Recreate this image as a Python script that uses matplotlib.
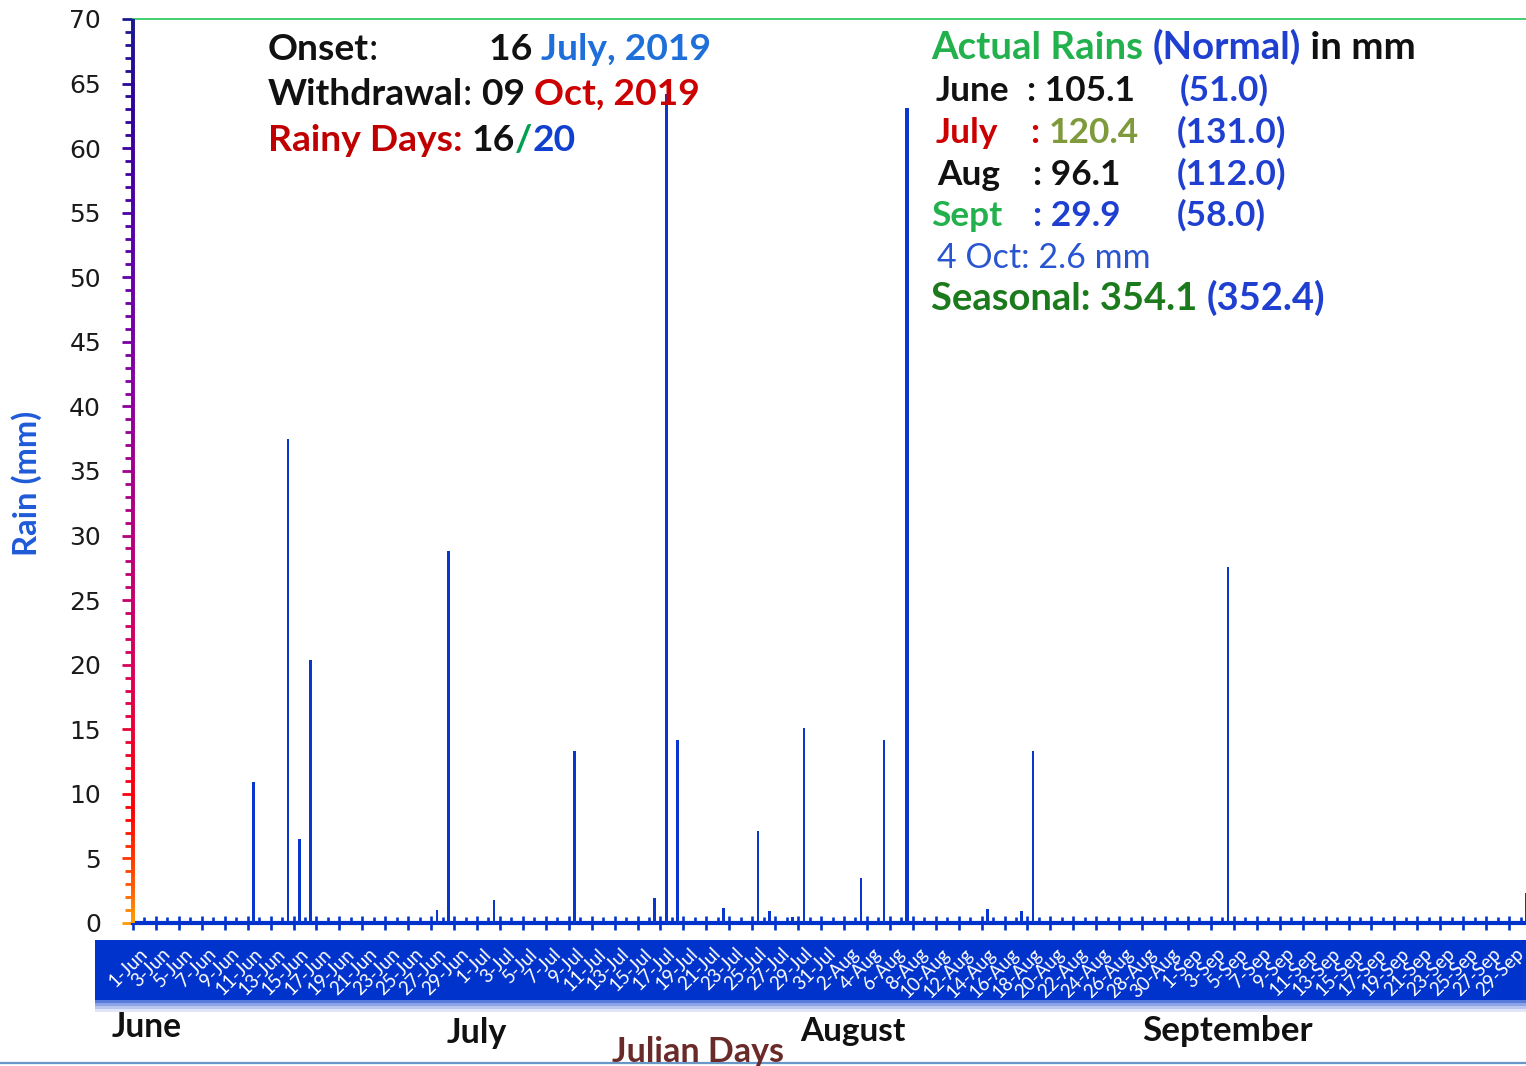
import matplotlib
matplotlib.use('Agg')
import matplotlib.pyplot as plt
import numpy as np
import pandas as pd
from matplotlib.colors import LinearSegmentedColormap
from matplotlib.collections import LineCollection
from matplotlib.patches import Rectangle
from matplotlib.lines import Line2D
from matplotlib.ticker import MultipleLocator, FixedLocator
from matplotlib.transforms import IdentityTransform, blended_transform_factory, offset_copy

# ---------------- data ----------------
season_start = '2019-06-01'
season_end = '2019-09-30'
rain_dates = ['2019-06-11', '2019-06-14', '2019-06-15', '2019-06-16', '2019-06-27', '2019-06-28',
              '2019-07-02', '2019-07-09', '2019-07-16', '2019-07-17', '2019-07-18', '2019-07-22',
              '2019-07-25', '2019-07-26', '2019-07-28', '2019-07-29',
              '2019-08-03', '2019-08-05', '2019-08-07', '2019-08-14', '2019-08-17', '2019-08-18',
              '2019-09-04', '2019-09-30']
rain_mm = [10.9, 37.5, 6.5, 20.4, 1.0, 28.8,
           1.8, 13.3, 1.9, 64.2, 14.2, 1.2,
           7.1, 0.9, 0.5, 15.1,
           3.5, 14.2, 63.1, 1.1, 0.9, 13.3,
           27.6, 2.3]
y_ticks = list(range(0, 71, 5))
month_labels = ['June', 'July', 'August', 'September']

# ---------------- figure ----------------
plt.rcParams['font.family'] = ['DejaVu Sans']
W, H = 1526, 1066
fig = plt.figure(figsize=(W / 100, H / 100), dpi=100)
fig.patch.set_facecolor('white')
ax = fig.add_axes([133 / W, (H - 923) / H, (1532 - 133) / W, (923 - 19) / H])

days = pd.date_range(season_start, season_end, freq='D')
n = len(days)
idx = np.array([(pd.Timestamp(d) - days[0]).days for d in rain_dates])
widths = [0.3 if v > 60 else 0.22 for v in rain_mm]
ax.bar(idx + 0.5, rain_mm, width=widths, color='#0A36D0', zorder=3, linewidth=0)
ax.set_xlim(0, n)
ax.set_ylim(0, 70)

# y axis
cmap = LinearSegmentedColormap.from_list('ygrad', [
    (0.0, '#FF9900'), (0.04, '#FF5500'), (0.12, '#FF0000'), (0.28, '#D8005A'),
    (0.45, '#B00080'), (0.6, '#8500A0'), (0.75, '#5A00A8'), (0.9, '#30009A'), (1.0, '#1A1A90')])
ax.yaxis.set_major_locator(FixedLocator(y_ticks))
ax.yaxis.set_minor_locator(MultipleLocator(1))
ax.tick_params(axis='y', which='major', direction='out', length=8, width=2.0,
               labelsize=18, pad=15, labelcolor='#1a1a1a')
ax.tick_params(axis='y', which='minor', direction='out', length=5.5, width=2.0)


def color_yticks():
    for t, loc in zip(ax.yaxis.get_major_ticks(), ax.yaxis.get_majorticklocs()):
        t.tick1line.set_color(cmap(loc / 70))
        t.tick1line.set_markeredgecolor(cmap(loc / 70))
    for t, loc in zip(ax.yaxis.get_minor_ticks(), ax.yaxis.get_minorticklocs()):
        t.tick1line.set_color(cmap(loc / 70))
        t.tick1line.set_markeredgecolor(cmap(loc / 70))


color_yticks()

ys = np.linspace(0, 70, 281)
pts = np.column_stack([np.zeros_like(ys), ys]).reshape(-1, 1, 2)
segs = np.concatenate([pts[:-1], pts[1:]], axis=1)
lc = LineCollection(segs, colors=[cmap(v / 70) for v in ys[:-1]], linewidths=2.8,
                    transform=blended_transform_factory(ax.transAxes, ax.transData),
                    clip_on=False, zorder=5)
ax.add_collection(lc)

# x axis
ax.xaxis.set_major_locator(FixedLocator(list(range(0, n + 1, 2))))
ax.xaxis.set_minor_locator(FixedLocator(list(range(1, n, 2))))
ax.tick_params(axis='x', which='major', direction='inout', length=9.5, width=1.9,
               color='#0033CC', labelbottom=False)
ax.tick_params(axis='x', which='minor', direction='in', length=4, width=1.9, color='#0033CC')

ax.spines['left'].set_visible(False)
ax.spines['right'].set_visible(False)
ax.spines['bottom'].set_color('#0033CC')
ax.spines['bottom'].set_linewidth(3)
ax.spines['top'].set_color('#33CC66')
ax.spines['top'].set_linewidth(1.3)

# x tick labels on blue band
band_tr = IdentityTransform()
fig.add_artist(Rectangle((95, H - 1000), W - 95, 60, transform=band_tr, color='#0033CC',
                         zorder=-1, linewidth=0))
for k, a in enumerate([0.65, 0.45, 0.28, 0.12]):
    fig.add_artist(Rectangle((95, H - 1000 - 3 * (k + 1)), W - 95, 3, transform=band_tr,
                             color='#0033CC', alpha=a, zorder=-1, linewidth=0))

lab_tr = offset_copy(blended_transform_factory(ax.transData, ax.transAxes), fig=fig,
                     x=0, y=-22, units='dots')
for i in range(0, n, 2):
    d = days[i]
    ax.text(i + 0.5, 0, f"{d.day}-{d.strftime('%b')}", transform=lab_tr, rotation=45,
            rotation_mode='anchor', ha='right', va='top', color='white', fontsize=13.5,
            family='Lato', clip_on=False)

# ---------------- text helpers ----------------
renderer = fig.canvas.get_renderer()


def text_w(s, size, weight='bold', family='Lato'):
    t = fig.text(0, 0, s + '|', fontsize=size, fontweight=weight, family=family)
    w1 = t.get_window_extent(renderer).width
    t.set_text('|')
    w2 = t.get_window_extent(renderer).width
    t.remove()
    return w1 - w2


def fit(s, target, weight='bold', family='Lato'):
    return 20 * target / text_w(s, 20, weight, family)


def runs(x, y, items, size, weight='bold', family='Lato'):
    dx = 0
    for it in items:
        s, c = it[0], it[1]
        w = it[2] if len(it) > 2 else weight
        fig.text(x + dx, H - y, s, color=c, fontsize=size, fontweight=w, family=family,
                 transform=IdentityTransform(), ha='left', va='baseline')
        dx += text_w(s, size, w, family)


BLK = '#111111'
# left block
ls = fit('Withdrawal: 09 Oct, 2019', 432)
runs(268, 60, [('Onset', BLK), (':', BLK, 'normal')], ls)
runs(489, 60, [('16 ', BLK), ('July, 2019', '#1E6FD9')], ls)
runs(268, 105, [('Withdrawal', BLK), (': ', BLK, 'normal'), ('09 ', BLK), ('Oct, 2019', '#CC0000')], ls)
runs(268, 151, [('Rainy Days: ', '#C00000'), ('16', BLK), ('/', '#00A050'), ('20', '#1040D0')], ls)

# right block
rs = fit('Actual Rains (Normal) in mm', 482)
ro = fit('(131.0)', 110)
BLU = '#1F3FD0'
runs(931, 59, [('Actual Rains ', '#22B14C'), ('(Normal)', BLU), (' in mm', BLK)], rs)
runs(936, 101, [('June', BLK)], ro)
runs(1027, 101, [(': 105.1', BLK)], ro)
runs(1180, 101, [('(51.0)', BLU)], ro)
runs(936, 143, [('July', '#CC0000')], ro)
runs(1031, 143, [(': ', '#CC0000'), ('120.4', '#7F9A3A')], ro)
runs(1177, 143, [('(131.0)', BLU)], ro)
runs(937, 185, [('Aug', BLK)], ro)
runs(1033, 185, [(': 96.1', BLK)], ro)
runs(1177, 185, [('(112.0)', BLU)], ro)
runs(931, 226, [('Sept', '#22B14C')], ro)
runs(1033, 226, [(': 29.9', BLU)], ro)
runs(1177, 226, [('(58.0)', BLU)], ro)
runs(937, 268, [('4 Oct: 2.6 mm', '#2A55D0', 'normal')], fit('4 Oct: 2.6 mm', 213, 'normal'))
runs(931, 310, [('Seasonal: 354.1 ', '#1B7A1B'), ('(352.4)', BLU)], fit('Seasonal: 354.1 (352.4)', 394))

# month labels
mx = [(112, 1037, 70), (447, 1043, 60), (800, 1041, 105), (1142, 1041, 171)]
for name, (x0, yb, wd) in zip(month_labels, mx):
    runs(x0, yb, [(name, BLK)], fit(name, wd))

runs(612, 1062, [('Julian Days', '#6B2A2A')], fit('Julian Days', 171))

# y label
yl = fit('Rain (mm)', 145)
fig.text(27, H - 483, 'Rain (mm)', rotation=90, color='#1F5AD8', fontsize=yl, fontweight='bold',
         family='Lato', transform=IdentityTransform(), ha='center', va='center')

# bottom border line
fig.add_artist(Line2D([0, W], [H - 1063, H - 1063], transform=IdentityTransform(),
                      color='#6A96C8', linewidth=1.6))

fig.canvas.draw()
color_yticks()
fig.savefig('out.png', dpi=100)
